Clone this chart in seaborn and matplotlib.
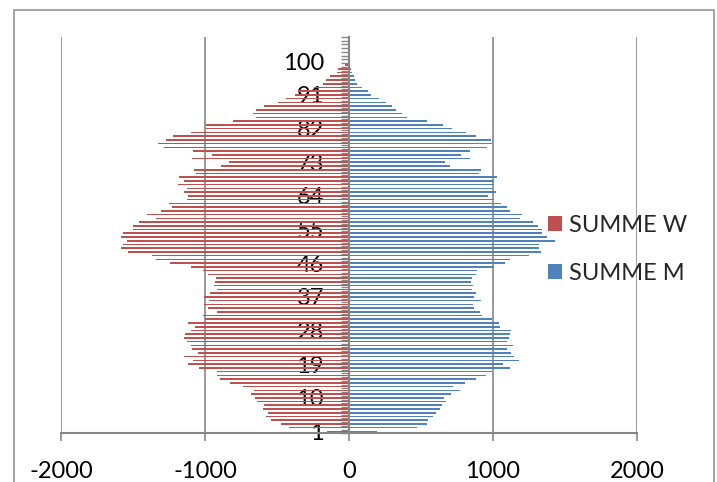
import numpy as np
import pandas as pd
import matplotlib
matplotlib.use("Agg")
import matplotlib.pyplot as plt
import seaborn as sns
from matplotlib.patches import Rectangle, Patch

# ---- data -------------------------------------------------------------
ages = list(range(1, 107))

summe_w = [
    -151, -418, -475, -543, -574, -561, -595, -587, -640, -653,
    -679, -658, -739, -828, -896, -914, -919, -1044, -1117, -1084,
    -1144, -1050, -1091, -1097, -1123, -1149, -1136, -1097, -1070, -1117,
    -997, -1013, -914, -979, -1005, -974, -1005, -966, -919, -940,
    -932, -927, -979, -1013, -1097, -1240, -1337, -1371, -1535, -1580,
    -1572, -1540, -1580, -1567, -1501, -1501, -1457, -1337, -1402, -1305,
    -1232, -1253, -1123, -1117, -1149, -1123, -1185, -1149, -1180, -1065,
    -1076, -888, -836, -1089, -950, -1084, -1285, -1324, -1274, -1222,
    -1097, -992, -992, -805, -644, -667, -648, -591, -494, -437,
    -375, -356, -241, -184, -161, -131, -80, -76, -25, 0,
    0, 0, 0, 0, 0, 0,
]

summe_m = [
    196, 475, 540, 548, 585, 601, 632, 648, 674, 661,
    705, 770, 723, 809, 880, 953, 992, 1117, 1070, 1180,
    1144, 1125, 1097, 1136, 1097, 1110, 1115, 1123, 1052, 1044,
    992, 927, 909, 869, 862, 914, 869, 883, 854, 862,
    849, 856, 883, 888, 1005, 1084, 1115, 1248, 1332, 1319,
    1316, 1431, 1376, 1339, 1337, 1313, 1279, 1188, 1201, 1117,
    1097, 1057, 1005, 966, 1018, 992, 1010, 1010, 1026, 906,
    914, 700, 666, 843, 775, 841, 961, 992, 987, 883,
    815, 718, 653, 543, 405, 366, 326, 299, 257, 207,
    150, 131, 87, 57, 41, 34, 18, 16, 5, 0,
    0, 0, 0, 0, 0, 0,
]

series_names = ["SUMME W", "SUMME M"]
series_colors = ["#C0504D", "#4F81BD"]
x_ticks = [-2000, -1000, 0, 1000, 2000]
x_tick_labels = ["-2000", "-1000", "0", "1000", "2000"]
y_label_ages = [1, 10, 19, 28, 37, 46, 55, 64, 73, 82, 91, 100]

# ---- style ------------------------------------------------------------
sns.set_theme(style="white")
plt.rcParams["font.family"] = ["Lato", "DejaVu Sans"]
FS = 17
GRID = "#868686"

W, H = 717, 482
fig = plt.figure(figsize=(W / 100, H / 100), dpi=100)
fig.patch.set_facecolor("white")

ax_left, ax_right, ax_bottom, ax_top = 61, 637, 433.3, 37
ax = fig.add_axes([ax_left / W, 1 - ax_bottom / H,
                   (ax_right - ax_left) / W, (ax_bottom - ax_top) / H])

df = pd.DataFrame({
    "Alter": ages * 2,
    "Wert": summe_w + summe_m,
    "Serie": [series_names[0]] * len(ages) + [series_names[1]] * len(ages),
})

sns.barplot(data=df, x="Wert", y="Alter", hue="Serie", orient="h",
            native_scale=True, dodge=False, width=0.42,
            palette=dict(zip(series_names, series_colors)),
            saturation=1, linewidth=0, legend=False, errorbar=None, ax=ax)

ax.set_xlim(-2000, 2000)
ax.set_ylim(0.5, len(ages) + 0.5)
ax.set_xlabel("")
ax.set_ylabel("")

# grid
ax.set_axisbelow(True)
ax.xaxis.grid(True, color=GRID, linewidth=1.2)
ax.yaxis.grid(False)

# spines
for s in ["top", "right"]:
    ax.spines[s].set_visible(False)
ax.spines["left"].set_position(("data", 0))
ax.spines["left"].set_color(GRID)
ax.spines["left"].set_linewidth(1.5)
ax.spines["left"].set_zorder(5)
ax.spines["bottom"].set_color(GRID)
ax.spines["bottom"].set_linewidth(1.5)

# x ticks
ax.set_xticks(x_ticks)
ax.set_xticklabels(x_tick_labels)
ax.tick_params(axis="x", direction="out", length=6, width=1.2, color=GRID,
               labelsize=FS, labelcolor="black", pad=14, bottom=True)

# y ticks: labels every 9th category, tick marks at each boundary
ax.set_yticks(y_label_ages)
ax.set_yticklabels([str(a) for a in y_label_ages])
ax.tick_params(axis="y", which="major", length=0, labelsize=FS,
               labelcolor="black", pad=18, left=True)
ax.set_yticks(np.arange(0.5, len(ages) + 1, 1), minor=True)
ax.tick_params(axis="y", which="minor", direction="out", length=5.5,
               width=1.0, color=GRID, left=True)

# legend
handles = [Patch(facecolor=c, edgecolor="none", label=n)
           for n, c in zip(series_names, series_colors)]
fig.legend(handles=handles, loc="upper left",
           bbox_to_anchor=(531 / W, 1 - 198 / H), frameon=False,
           fontsize=FS, handlelength=0.62, handleheight=0.62,
           handletextpad=0.3, labelspacing=1.15, borderpad=0.2)

# chart border
fig.add_artist(Rectangle((13.5 / W, -0.05), 700 / W, 1.05 - 10 / H,
                         transform=fig.transFigure, fill=False,
                         edgecolor="#8C8C8C", linewidth=1.1))

fig.savefig("out.png", dpi=100)
